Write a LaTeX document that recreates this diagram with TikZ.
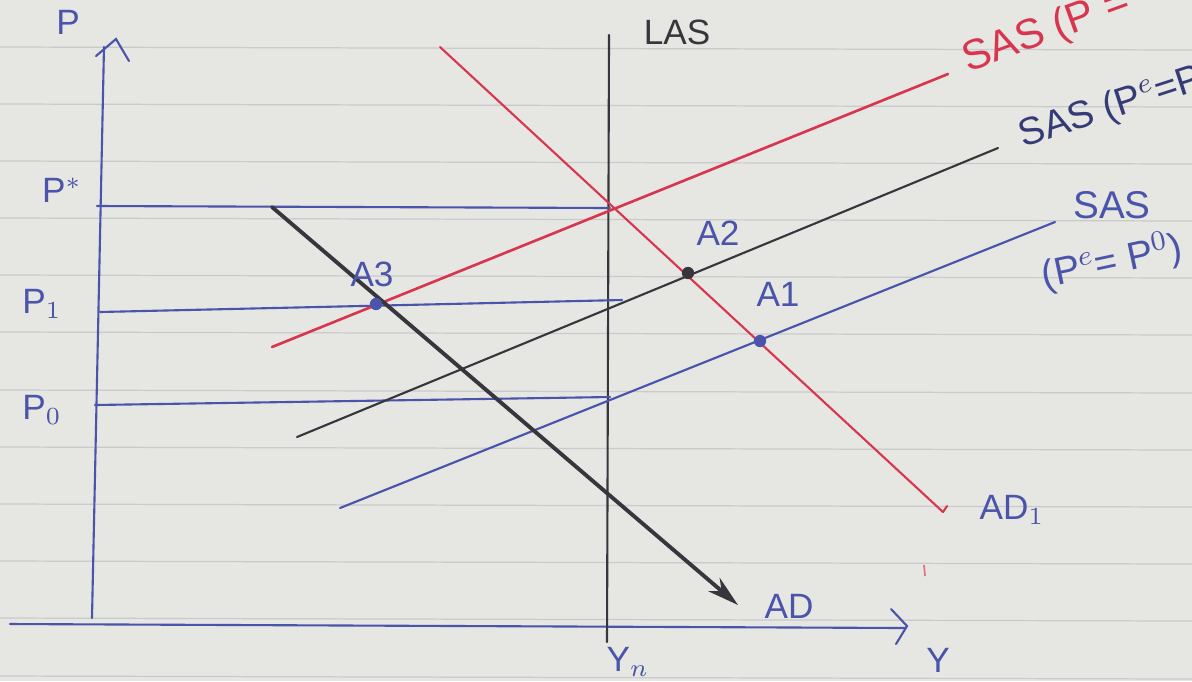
\documentclass[tikz,border=0pt]{standalone}
\usepackage{fontspec}
\setmainfont{Liberation Sans}
\usetikzlibrary{arrows.meta}
\definecolor{paper}{HTML}{E6E6E2}
\definecolor{ruleline}{HTML}{C9CACC}
\definecolor{inkblue}{HTML}{4A54AA}
\definecolor{inkred}{HTML}{D8364E}
\definecolor{inkblack}{HTML}{36363C}
\tikzset{
  pen/.style={line width=0.6pt, line cap=round},
  lbl/.style={font=\fontsize{10}{12}\selectfont, inner sep=0pt},
  dotpt/.style={circle, fill=#1, inner sep=0pt, minimum size=3.5pt},
}
\begin{document}
\begin{tikzpicture}[x=0.01cm,y=-0.01cm]
\useasboundingbox (0,0) rectangle (1192,681);
\fill[paper] (0,0) rectangle (1192,681);
\foreach \y in {47,104,161,218,275,332,390,447,504,561,618,676}
  \draw[ruleline, line width=0.35pt] (0,\y) -- (1192,{\y+3});

% endpoints
\coordinate (pbot) at (92,618);
\coordinate (ptop) at (104,47);
\coordinate (yleft) at (10,624);
\coordinate (yright) at (906,628);
\coordinate (lastop) at (609,35);
\coordinate (lasbot) at (607,642);
\coordinate (pstarL) at (97,206);
\coordinate (pstarR) at (610,208);
\coordinate (p1L) at (100,312);
\coordinate (p1R) at (622,300);
\coordinate (p0L) at (95,405);
\coordinate (p0R) at (610,397);
\coordinate (sasrL) at (272,347);
\coordinate (sasrR) at (948,74);
\coordinate (saskL) at (297,437);
\coordinate (saskR) at (998,148);
\coordinate (sasbL) at (340,508);
\coordinate (sasbR) at (1055,222);
\coordinate (adrT) at (440,47);
\coordinate (adrB) at (943,512);
\coordinate (adT) at (272,207);
\coordinate (adB) at (738,605);

% axes
\draw[pen, inkblue] (pbot) -- (ptop);
\draw[pen, inkblue] (96,56) -- (116,39) -- (129,61);
\draw[pen, inkblue] (yleft) -- (yright);
\draw[pen, inkblue] (891,609) -- (907,626) -- (896,644);
\draw[pen, inkblack] (lasbot) -- (lastop);

% price levels
\draw[pen, inkblue] (pstarL) -- (pstarR);
\draw[pen, inkblue] (p1L) -- (p1R);
\draw[pen, inkblue] (p0L) -- (p0R);

% SAS curves
\draw[pen, inkred, line width=0.75pt] (sasrL) -- (sasrR);
\draw[pen, inkblack] (saskL) -- (saskR);
\draw[pen, inkblue] (sasbL) -- (sasbR);

% AD curves
\draw[pen, inkred] (adrT) -- (adrB);
\draw[pen, inkred] (adrB) -- (947,506);
\draw[inkblack, line width=1.1pt, line cap=round, -{Stealth[length=9pt,width=5pt]}] (adT) -- (adB);

% points
\node[dotpt=inkblue] (a3) at (376,304) {};
\node[dotpt=inkblack] (a2) at (688,273) {};
\node[dotpt=inkblue] (a1) at (760,341) {};

% stray mark
\draw[inkred!70, line width=0.5pt] (924,565) -- (925,576);

% labels
\node[lbl, inkblue] (lP) at (68,22) {P};
\node[lbl, inkblue] (lPs) at (62,190) {P$^{\ast}$};
\node[lbl, inkblue] (lP1) at (42,304) {P$_{1}$};
\node[lbl, inkblue] (lP0) at (42,410) {P$_{0}$};
\node[lbl, inkblack] (lLAS) at (677,32) {LAS};
\node[lbl, inkblue] (lYn) at (628,662) {Y$_{n}$};
\node[lbl, inkblue] (lY) at (938,660) {Y};
\node[lbl, inkblue] (lAD) at (789,606) {AD};
\node[lbl, inkblue] (lAD1) at (1012,510) {AD$_{1}$};
\node[lbl, inkblue] (lA3) at (372,274) {A3};
\node[lbl, inkblue] (lA2) at (718,233) {A2};
\node[lbl, inkblue] (lA1) at (778,294) {A1};
\node[lbl, inkred, font=\fontsize{12}{14}\selectfont, rotate=20, anchor=west] (lSASr) at (964,62) {SAS (P =};
\node[lbl, inkblue!70!black, font=\fontsize{11}{13}\selectfont, rotate=18, anchor=west] (lSASk) at (1020,138) {SAS (P$^{e}$=P$_{1}$};
\node[lbl, inkblue, font=\fontsize{11}{13}\selectfont] (lSASb) at (1112,205) {SAS};
\node[lbl, inkblue, font=\fontsize{11}{13}\selectfont, rotate=12] (lSASb2) at (1112,262) {(P$^{e}$= P$^{0}$)};
\end{tikzpicture}
\end{document}
